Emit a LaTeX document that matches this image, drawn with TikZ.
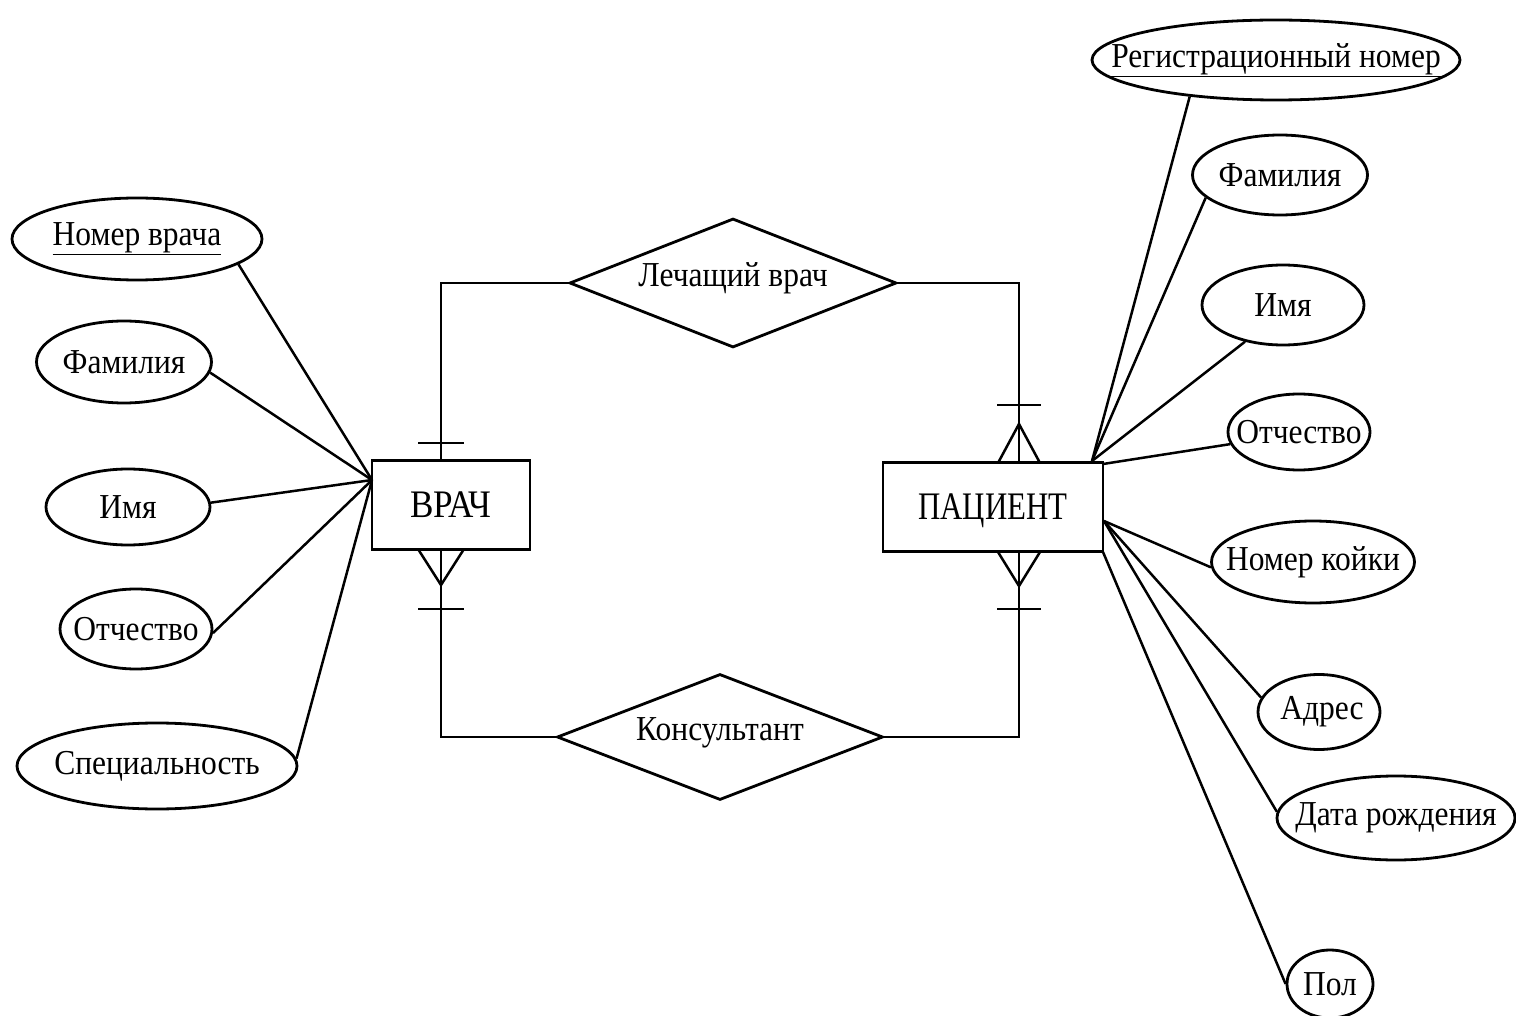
\documentclass[tikz,border=0pt]{standalone}
\usepackage{fontspec}
\setmainfont{Liberation Serif}[FakeStretch=0.9]
\usetikzlibrary{shapes.geometric}
\begin{document}
\begin{tikzpicture}[x=1pt,y=-1pt,line width=2.8pt,
  attr/.style={draw,ellipse,inner ysep=0pt,inner xsep=-40pt,font=\fontsize{35}{40}\selectfont},
  ent/.style={draw,rectangle,inner sep=0pt,text height=25.5pt,text depth=0pt,font=\fontsize{39}{46}\selectfont},
  rel/.style={draw,diamond,aspect=2.53,inner sep=0pt,text height=23pt,text depth=16pt,font=\fontsize{35}{40}\selectfont},
  conn/.style={line width=2.5pt}]
\useasboundingbox (0,0) rectangle (1516,1016);
% entities
\node[ent,minimum width=158,minimum height=89] (vrach) at (451,505) {ВРАЧ};
\node[ent,minimum width=220,minimum height=89] (pac) at (993,507) {\scalebox{0.88}[1]{ПАЦИЕНТ}};
% relationships
\node[rel,minimum width=327,minimum height=129] (lech) at (733,283) {Лечащий врач};
\node[rel,minimum width=326,minimum height=126] (kons) at (720,737) {Консультант};
% connector points
\coordinate (vt) at (441,460);
\coordinate (vb) at (441,549);
\coordinate (pt) at (1019,463);
\coordinate (pb) at (1019,552);
\draw[conn] (lech.west) -| (vt);
\draw[conn] (lech.east) -| (pt);
\draw[conn] (kons.west) -| (vb);
\draw[conn] (kons.east) -| (pb);
% cardinality marks
\draw[conn] (418,443) -- (464,443);
\draw[conn] (418,609) -- (464,609);
\draw[conn] (997,405) -- (1041,405);
\draw[conn] (997,609) -- (1041,609);
\draw[conn] (418,549) -- (441,585) -- (464,549);
\draw[conn] (998,463) -- (1019,424) -- (1040,463);
\draw[conn] (998,552) -- (1019,586) -- (1040,552);
% left attributes
\node[attr,minimum width=250,minimum height=82] (a1) at (137,239) {\underline{Номер врача}};
\node[attr,minimum width=175,minimum height=82] (a2) at (124,362) {Фамилия};
\node[attr,minimum width=164,minimum height=76] (a3) at (128,507) {Имя};
\node[attr,minimum width=152,minimum height=80] (a4) at (136,629) {Отчество};
\node[attr,minimum width=280,minimum height=86] (a5) at (157,766) {Специальность};
\coordinate (vl) at (372,480);
\draw[conn] (a1.-14) -- (vl);
\draw[conn] (a2.-7.5) -- (vl);
\draw[conn] (a3.3.5) -- (vl);
\draw[conn] (a4.-3) -- (vl);
\draw[conn] (a5.3) -- (vl);
% right attributes
\node[attr,minimum width=368,minimum height=80] (b1) at (1276,60) {\underline{Регистрационный номер}};
\node[attr,minimum width=175,minimum height=80] (b2) at (1280,175) {Фамилия};
\node[attr,minimum width=162,minimum height=80] (b3) at (1283,305) {Имя};
\node[attr,minimum width=142,minimum height=76] (b4) at (1299,432) {Отчество};
\node[attr,minimum width=203,minimum height=82] (b5) at (1313,562) {Номер койки};
\node[attr,minimum width=122,minimum height=75] (b6) at (1319,712) {\hspace*{6pt}Адрес};
\node[attr,minimum width=238,minimum height=84] (b7) at (1396,818) {Дата рождения};
\node[attr,minimum width=86,minimum height=68] (b8) at (1330,984) {Пол};
\coordinate (pr1) at (1092,461);
\coordinate (pr2) at (1103,464);
\coordinate (pr3) at (1104,521);
\coordinate (pr4) at (1103,552);
\draw[conn] (b1.-157) -- (pr1);
\draw[conn] (b2.-163) -- (pr1);
\draw[conn] (b3.-136) -- (pr1);
\draw[conn] (b4.-170) -- (pr2);
\draw[conn] (b5.-177) -- (pr3);
\draw[conn] (b6.166) -- (pr3);
\draw[conn] (b7.177) -- (pr3);
\draw[conn] (b8.180) -- (pr4);
\end{tikzpicture}
\end{document}
